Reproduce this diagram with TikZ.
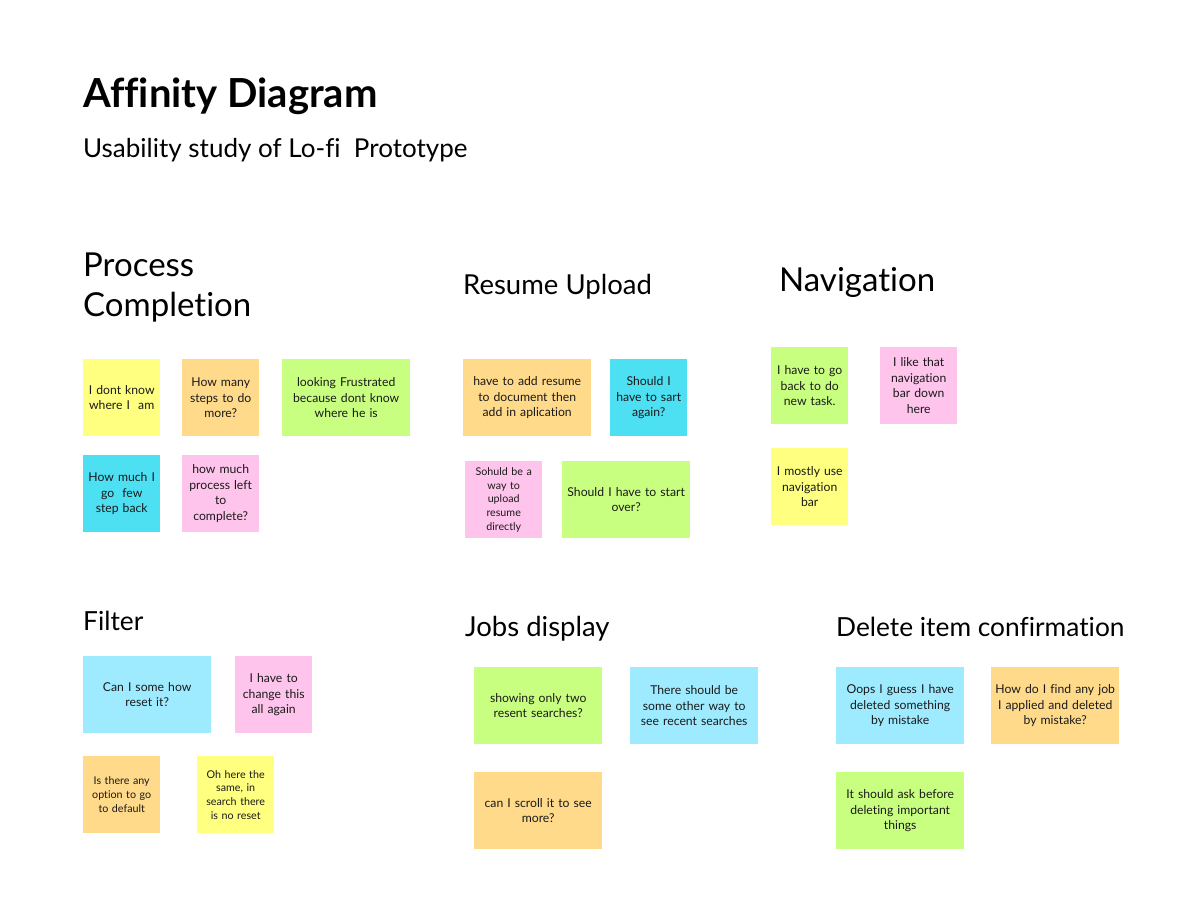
\documentclass[tikz,border=0pt]{standalone}
\usepackage{fontspec}
\setmainfont{Lato}[Ligatures=NoCommon]
\definecolor{nyellow}{HTML}{FFFF80}
\definecolor{norange}{HTML}{FFDA8A}
\definecolor{ngreen}{HTML}{C9FF80}
\definecolor{ncyan}{HTML}{4DDFF2}
\definecolor{nlcyan}{HTML}{9EEBFF}
\definecolor{npink}{HTML}{FFC4EC}
\definecolor{ntext}{HTML}{1A1A1A}
\tikzset{
  note/.style={anchor=north west, inner sep=0pt, align=center, text=ntext,
    font=\fontsize{12.2}{15.5}\selectfont},
  small/.style={font=\fontsize{10.7}{13.7}\selectfont},
  sq/.style={minimum width=77pt, minimum height=77pt, text width=74pt},
  wide/.style={minimum width=128pt, minimum height=77pt, text width=125pt},
  heading/.style={anchor=base west, inner sep=0pt, text=black, font=\fontsize{33}{40}\selectfont, align=left},
  subheading/.style={anchor=base west, inner sep=0pt, text=black, font=\fontsize{26.3}{30}\selectfont},
  subheadingb/.style={anchor=base west, inner sep=0pt, text=black, font=\fontsize{27.5}{30}\selectfont},
}
\begin{document}
\begin{tikzpicture}[x=1pt,y=-1pt]
\useasboundingbox[fill=white] (0,0) rectangle (1202,902);
% titles
\node[anchor=base west, inner sep=0pt, font=\fontsize{40}{44}\selectfont\bfseries] (title) at (83,107) {Affinity Diagram};
\node[anchor=base west, inner sep=0pt, font=\fontsize{26}{30}\selectfont] (subtitle) at (83,157) {Usability study of Lo-fi\ \ Prototype};
% headings
\node[heading] (hpc) at (83,316) {Process\\Completion};
\node[subheadingb] (hru) at (463,294) {Resume Upload};
\node[heading] (hnv) at (779,291) {Navigation};
\node[subheading] (hfl) at (83,630) {Filter};
\node[subheadingb] (hjd) at (465,636) {Jobs display};
\node[subheading] (hdl) at (836,636) {Delete item confirmation};
% Process Completion
\node[note, sq, fill=nyellow] (pc1) at (83,359) {I dont know\\where I\ \ am};
\node[note, sq, fill=norange] (pc2) at (182,359) {How many\\steps to do\\more?};
\node[note, wide, fill=ngreen] (pc3) at (282,359) {looking Frustrated\\because dont know\\where he is};
\node[note, sq, fill=ncyan] (pc4) at (83,455) {How much I\\go\ \ few\\step back};
\node[note, sq, fill=npink] (pc5) at (182,455) {how much\\process left\\to\\complete?};
% Resume Upload
\node[note, wide, fill=norange] (ru1) at (463,359) {have to add resume\\to document then\\add in aplication};
\node[note, sq, fill=ncyan] (ru2) at (610,359) {Should I\\have to sart\\again?};
\node[note, sq, small, fill=npink] (ru3) at (465,461) {Sohuld be a\\way to\\upload\\resume\\directly};
\node[note, wide, fill=ngreen] (ru4) at (562,461) {Should I have to start\\over?};
% Navigation
\node[note, sq, fill=ngreen] (nv1) at (771,347) {I have to go\\back to do\\new task.};
\node[note, sq, fill=npink] (nv2) at (880,347) {I like that\\navigation\\bar down\\here};
\node[note, sq, fill=nyellow] (nv3) at (771,448) {I mostly use\\navigation\\bar};
% Filter
\node[note, wide, fill=nlcyan] (fl1) at (83,656) {Can I some how\\reset it?};
\node[note, sq, fill=npink] (fl2) at (235,656) {I have to\\change this\\all again};
\node[note, sq, small, fill=norange] (fl3) at (83,756) {Is there any\\option to go\\to default};
\node[note, sq, small, fill=nyellow] (fl4) at (197,756) {Oh here the\\same, in\\search there\\is no reset};
% Jobs display
\node[note, wide, fill=ngreen] (jd1) at (474,667) {showing only two\\resent searches?};
\node[note, wide, fill=nlcyan] (jd2) at (630,667) {There should be\\some other way to\\see recent searches};
\node[note, wide, fill=norange] (jd3) at (474,772) {can I scroll it to see\\more?};
% Delete item confirmation
\node[note, wide, fill=nlcyan] (dl1) at (836,667) {Oops I guess I have\\deleted something\\by mistake};
\node[note, wide, fill=norange] (dl2) at (991,667) {How do I find any job\\I applied and deleted\\by mistake?};
\node[note, wide, fill=ngreen] (dl3) at (836,772) {It should ask before\\deleting important\\things};
\end{tikzpicture}
\end{document}
